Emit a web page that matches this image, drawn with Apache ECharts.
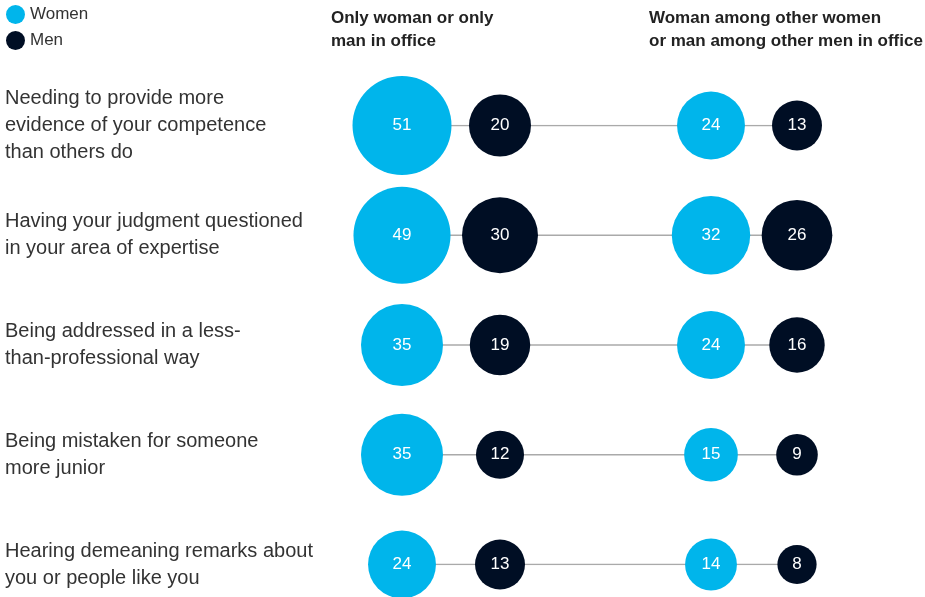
<!DOCTYPE html>
<html><head><meta charset="utf-8">
<script src="https://cdn.jsdelivr.net/npm/echarts@6/dist/echarts.min.js"></script>
<style>html,body{margin:0;padding:0;background:#fff}#c{width:925px;height:597px}</style>
</head><body><div id="c"></div>
<script>
const categories = [
  'Needing to provide more\nevidence of your competence\nthan others do',
  'Having your judgment questioned\nin your area of expertise',
  'Being addressed in a less-\nthan-professional way',
  'Being mistaken for someone\nmore junior',
  'Hearing demeaning remarks about\nyou or people like you'
];
const groupNames = ['Only woman or only\nman in office', 'Woman among other women\nor man among other men in office'];
const womenSolo = [51, 49, 35, 35, 24];
const menSolo   = [20, 30, 19, 12, 13];
const womenGroup = [24, 32, 24, 15, 14];
const menGroup   = [13, 26, 16, 9, 8];

// layout: column positions along the x axis
const COL = {womenSolo: 0, menSolo: 98, womenGroup: 309, menGroup: 395};
const WOMEN_COLOR = '#00b5eb';
const MEN_COLOR = '#000e24';
const FONT = 'Liberation Sans, Arial, sans-serif';

const sizeOf = v => 13.86 * Math.sqrt(v);

const womenData = [];
const menData = [];
categories.forEach((c, i) => {
  womenData.push([COL.womenSolo, i, womenSolo[i]]);
  womenData.push([COL.womenGroup, i, womenGroup[i]]);
  menData.push([COL.menSolo, i, menSolo[i]]);
  menData.push([COL.menGroup, i, menGroup[i]]);
});

const lineSeries = categories.map((c, i) => ({
  type: 'line', silent: true, symbol: 'none', z: 1,
  lineStyle: {color: '#aaaaaa', width: 1.5},
  data: [[COL.womenSolo, i], [COL.menGroup, i]]
}));

const bubbleLabel = {
  show: true, position: 'inside', color: '#fff', fontSize: 17, fontFamily: FONT,
  formatter: p => p.value[2]
};

const chart = echarts.init(document.getElementById('c'));
chart.setOption({
  animation: false,
  title: [
    {text: groupNames[0], left: 326, top: 2, textStyle: {fontSize: 17, fontWeight: 'bold', color: '#222', fontFamily: FONT, lineHeight: 23}},
    {text: groupNames[1], left: 644, top: 2, textStyle: {fontSize: 17, fontWeight: 'bold', color: '#222', fontFamily: FONT, lineHeight: 23}}
  ],
  legend: {
    orient: 'vertical', left: 1, top: 0, itemWidth: 19, itemHeight: 19, itemGap: 7,
    icon: 'circle', data: ['Women', 'Men'],
    textStyle: {fontSize: 17, color: '#333', fontFamily: FONT, padding: [0, 0, 0, 0]}
  },
  grid: {left: 402, right: 128, top: 125.5, bottom: 32.5},
  xAxis: {type: 'value', min: 0, max: 395, show: false},
  yAxis: {
    type: 'category', data: categories, inverse: true, boundaryGap: false,
    axisLine: {show: false}, axisTick: {show: false}, splitLine: {show: false},
    axisLabel: {align: 'left', margin: 397, fontSize: 20, lineHeight: 27, color: '#333', fontFamily: FONT}
  },
  series: [
    ...lineSeries,
    {name: 'Women', type: 'scatter', z: 3, data: womenData, symbolSize: d => sizeOf(d[2]),
     itemStyle: {color: WOMEN_COLOR, opacity: 1}, label: bubbleLabel},
    {name: 'Men', type: 'scatter', z: 3, data: menData, symbolSize: d => sizeOf(d[2]),
     itemStyle: {color: MEN_COLOR, opacity: 1}, label: bubbleLabel}
  ]
});
</script></body></html>
